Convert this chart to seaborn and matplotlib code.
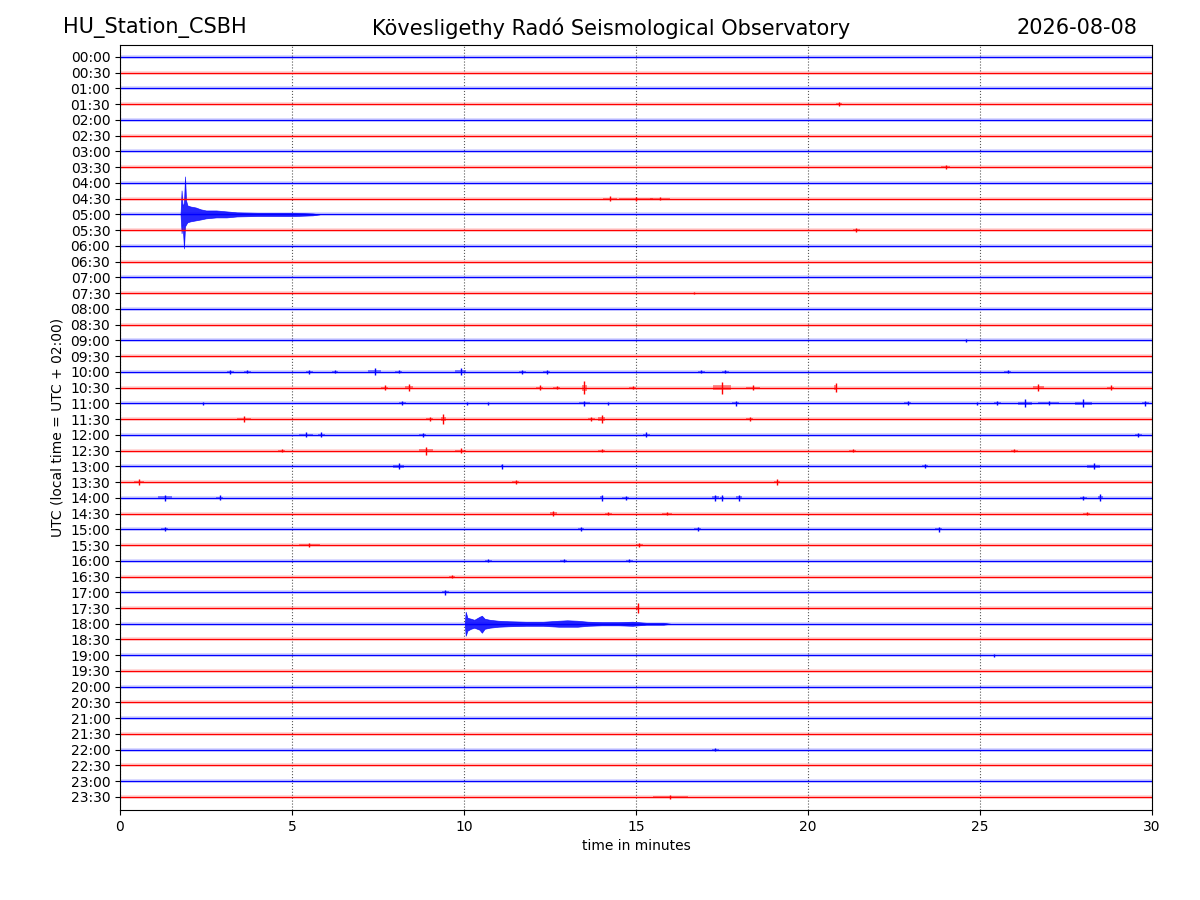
import numpy as np
import pandas as pd
import matplotlib
matplotlib.use('Agg')
import matplotlib.pyplot as plt
import seaborn as sns

# Row labels (one trace every 30 minutes) and alternating colours
row_labels = [f"{h:02d}:{m:02d}" for h in range(24) for m in (0, 30)]
row_colors = ['blue', 'red']
trace_span = [0, 30]

# Small local bursts: row, centre minute, half amplitude (row units), half width (minutes)
burst_rows = ['01:30', '03:30', '04:30', '04:30', '04:30', '05:30', '07:30', '09:00',
              '10:00', '10:00', '10:00', '10:00', '10:00', '10:00', '10:00', '10:00', '10:00', '10:00', '10:00', '10:00',
              '10:30', '10:30', '10:30', '10:30', '10:30', '10:30', '10:30', '10:30', '10:30', '10:30', '10:30',
              '11:00', '11:00', '11:00', '11:00', '11:00', '11:00', '11:00', '11:00', '11:00', '11:00', '11:00', '11:00', '11:00', '11:00',
              '11:30', '11:30', '11:30', '11:30', '11:30', '11:30',
              '12:00', '12:00', '12:00', '12:00', '12:00',
              '12:30', '12:30', '12:30', '12:30', '12:30', '12:30',
              '13:00', '13:00', '13:00', '13:00',
              '13:30', '13:30', '13:30',
              '14:00', '14:00', '14:00', '14:00', '14:00', '14:00', '14:00', '14:00', '14:00',
              '14:30', '14:30', '14:30', '14:30',
              '15:00', '15:00', '15:00', '15:00',
              '15:30', '15:30',
              '16:00', '16:00', '16:00', '16:30', '17:00', '17:30', '19:00', '22:00', '23:30']
burst_minutes = [20.9, 24.0, 14.25, 15.0, 15.7, 21.4, 16.7, 24.6,
                 3.2, 3.7, 5.5, 6.25, 7.4, 8.1, 9.9, 11.7, 12.4, 16.9, 17.6, 25.8,
                 7.7, 8.4, 12.2, 12.7, 13.5, 14.9, 17.5, 18.4, 20.8, 26.7, 28.8,
                 2.4, 8.2, 10.1, 10.7, 13.5, 14.2, 17.9, 22.9, 24.9, 25.5, 26.3, 27.0, 28.0, 29.8,
                 3.6, 9.0, 9.4, 13.7, 14.0, 18.3,
                 5.4, 5.85, 8.8, 15.3, 29.6,
                 4.7, 8.9, 9.9, 14.0, 21.3, 26.0,
                 8.1, 11.1, 23.4, 28.3,
                 0.55, 11.5, 19.1,
                 1.3, 2.9, 14.0, 14.7, 17.3, 17.5, 18.0, 28.0, 28.5,
                 12.6, 14.2, 15.9, 28.1,
                 1.3, 13.4, 16.8, 23.8,
                 5.5, 15.1,
                 10.7, 12.9, 14.8, 9.65, 9.45, 15.05, 25.4, 17.3, 16.0]
burst_amps = [0.13, 0.13, 0.15, 0.12, 0.08, 0.13, 0.08, 0.1,
              0.12, 0.1, 0.12, 0.1, 0.22, 0.1, 0.22, 0.12, 0.12, 0.1, 0.1, 0.1,
              0.15, 0.2, 0.15, 0.12, 0.42, 0.12, 0.38, 0.15, 0.3, 0.2, 0.15,
              0.1, 0.12, 0.1, 0.1, 0.15, 0.1, 0.15, 0.12, 0.1, 0.12, 0.25, 0.12, 0.25, 0.15,
              0.18, 0.12, 0.32, 0.15, 0.25, 0.15,
              0.15, 0.15, 0.12, 0.15, 0.12,
              0.1, 0.25, 0.15, 0.1, 0.1, 0.1,
              0.2, 0.15, 0.12, 0.18,
              0.18, 0.1, 0.18,
              0.2, 0.15, 0.2, 0.12, 0.2, 0.18, 0.2, 0.12, 0.22,
              0.15, 0.12, 0.1, 0.1,
              0.12, 0.12, 0.12, 0.15,
              0.1, 0.15,
              0.1, 0.1, 0.1, 0.08, 0.15, 0.32, 0.1, 0.1, 0.1]
burst_widths = [0.1, 0.12, 0.2, 0.5, 0.3, 0.1, 0.1, 0.05,
                0.1, 0.1, 0.1, 0.1, 0.2, 0.1, 0.15, 0.1, 0.1, 0.1, 0.1, 0.1,
                0.1, 0.12, 0.1, 0.1, 0.08, 0.1, 0.25, 0.2, 0.05, 0.15, 0.1,
                0.1, 0.1, 0.1, 0.1, 0.15, 0.1, 0.1, 0.1, 0.1, 0.1, 0.2, 0.3, 0.25, 0.1,
                0.2, 0.1, 0.08, 0.1, 0.1, 0.1,
                0.2, 0.1, 0.1, 0.1, 0.1,
                0.1, 0.2, 0.15, 0.1, 0.1, 0.1,
                0.15, 0.03, 0.1, 0.2,
                0.15, 0.1, 0.1,
                0.2, 0.1, 0.05, 0.1, 0.1, 0.06, 0.08, 0.1, 0.08,
                0.1, 0.1, 0.15, 0.1,
                0.1, 0.1, 0.1, 0.1,
                0.3, 0.1,
                0.1, 0.1, 0.1, 0.1, 0.1, 0.05, 0.1, 0.1, 0.5]

# Earthquake near 05:00 (envelope, row units)
quake1_row = '05:00'
quake1_minutes = [1.76, 1.79, 1.82, 1.86, 1.89, 1.92, 1.96, 2.05, 2.2, 2.35, 2.5,
                  2.8, 3.1, 3.4, 4.0, 4.6, 5.1, 5.6, 5.8]
quake1_up = [0, 1.52, 0.5, 0.76, 2.41, 0.89, 0.57, 0.5, 0.44, 0.32, 0.25,
             0.25, 0.19, 0.13, 0.1, 0.1, 0.1, 0.06, 0]
quake1_down = [0, 1.2, 0.64, 2.16, 0.76, 0.64, 0.5, 0.44, 0.38, 0.32, 0.25,
               0.19, 0.19, 0.13, 0.1, 0.1, 0.1, 0.06, 0]

# Earthquake near 18:10
quake2_row = '18:00'
quake2_minutes = [10.02, 10.05, 10.1, 10.2, 10.3, 10.45, 10.52, 10.6, 10.75, 11.0, 11.3,
                  11.8, 12.3, 12.75, 13.0, 13.3, 13.6, 14.0, 14.5, 14.9, 15.3, 15.8, 16.0]
quake2_up = [0, 0.76, 0.38, 0.32, 0.25, 0.44, 0.51, 0.32, 0.25, 0.19, 0.16,
             0.13, 0.13, 0.19, 0.22, 0.19, 0.13, 0.1, 0.1, 0.13, 0.06, 0.06, 0]
quake2_down = [0, 0.76, 0.44, 0.32, 0.25, 0.38, 0.57, 0.32, 0.25, 0.19, 0.16,
               0.13, 0.13, 0.19, 0.19, 0.19, 0.13, 0.1, 0.1, 0.13, 0.06, 0.06, 0]

# Build tables
row_offset = {lab: -i for i, lab in enumerate(row_labels)}
palette = {lab: row_colors[i % 2] for i, lab in enumerate(row_labels)}

trace_df = pd.DataFrame([
    {'row': lab, 'minute': t, 'offset': row_offset[lab]}
    for lab in row_labels for t in trace_span
])
burst_df = pd.DataFrame({'row': burst_rows, 'minute': burst_minutes,
                         'amp': burst_amps, 'width': burst_widths})

sns.set_style('ticks')
plt.rcParams.update({'text.color': 'black', 'axes.labelcolor': 'black',
                     'xtick.color': 'black', 'ytick.color': 'black'})

fig = plt.figure(figsize=(12, 9), dpi=100)
ax = fig.add_axes([0.1, 0.1, 0.86, 0.85])

# faint noise halo, then the trace itself
sns.lineplot(data=trace_df, x='minute', y='offset', hue='row', palette=palette,
             legend=False, linewidth=2.6, alpha=0.18, estimator=None, ax=ax)
sns.lineplot(data=trace_df, x='minute', y='offset', hue='row', palette=palette,
             legend=False, linewidth=0.9, estimator=None, ax=ax)

# bursts
for _, b in burst_df.iterrows():
    base = row_offset[b['row']]
    ax.fill_between([b['minute'] - b['width'], b['minute'] + b['width']],
                    base - b['amp'] * 0.45, base + b['amp'] * 0.45,
                    color=palette[b['row']], alpha=0.45, linewidth=0)
    ax.vlines(b['minute'], base - b['amp'], base + b['amp'],
              color=palette[b['row']], linewidth=1.0)

# earthquakes
for row, mins, up, down in [(quake1_row, quake1_minutes, quake1_up, quake1_down),
                            (quake2_row, quake2_minutes, quake2_up, quake2_down)]:
    base = row_offset[row]
    ax.fill_between(mins, base - np.array(down), base + np.array(up),
                    color=palette[row], alpha=0.85, linewidth=0.5)

ax.set_xlim(0, 30)
ax.set_ylim(-47.83, 0.76)
ax.set_xticks(range(0, 31, 5))
ax.set_yticks([row_offset[lab] for lab in row_labels])
ax.set_yticklabels(row_labels)
ax.tick_params(labelsize=10, colors='black')
for s in ax.spines.values():
    s.set_color('black')
ax.grid(axis='x', linestyle=':', color='0.35', linewidth=0.8)
ax.grid(axis='y', visible=False)
ax.set_xlabel('time in minutes', fontsize=10)
ax.set_ylabel('UTC (local time = UTC + 02:00)', fontsize=10)

fig.text(0.129, 0.969, 'HU_Station_CSBH', ha='center', va='center', fontsize=15, color='black')
fig.text(0.509, 0.969, 'Kövesligethy Radó Seismological Observatory', ha='center', va='center',
         fontsize=15, color='black')
fig.text(0.8975, 0.969, '2026-08-08', ha='center', va='center', fontsize=15, color='black')

fig.savefig('out.png', dpi=100)
